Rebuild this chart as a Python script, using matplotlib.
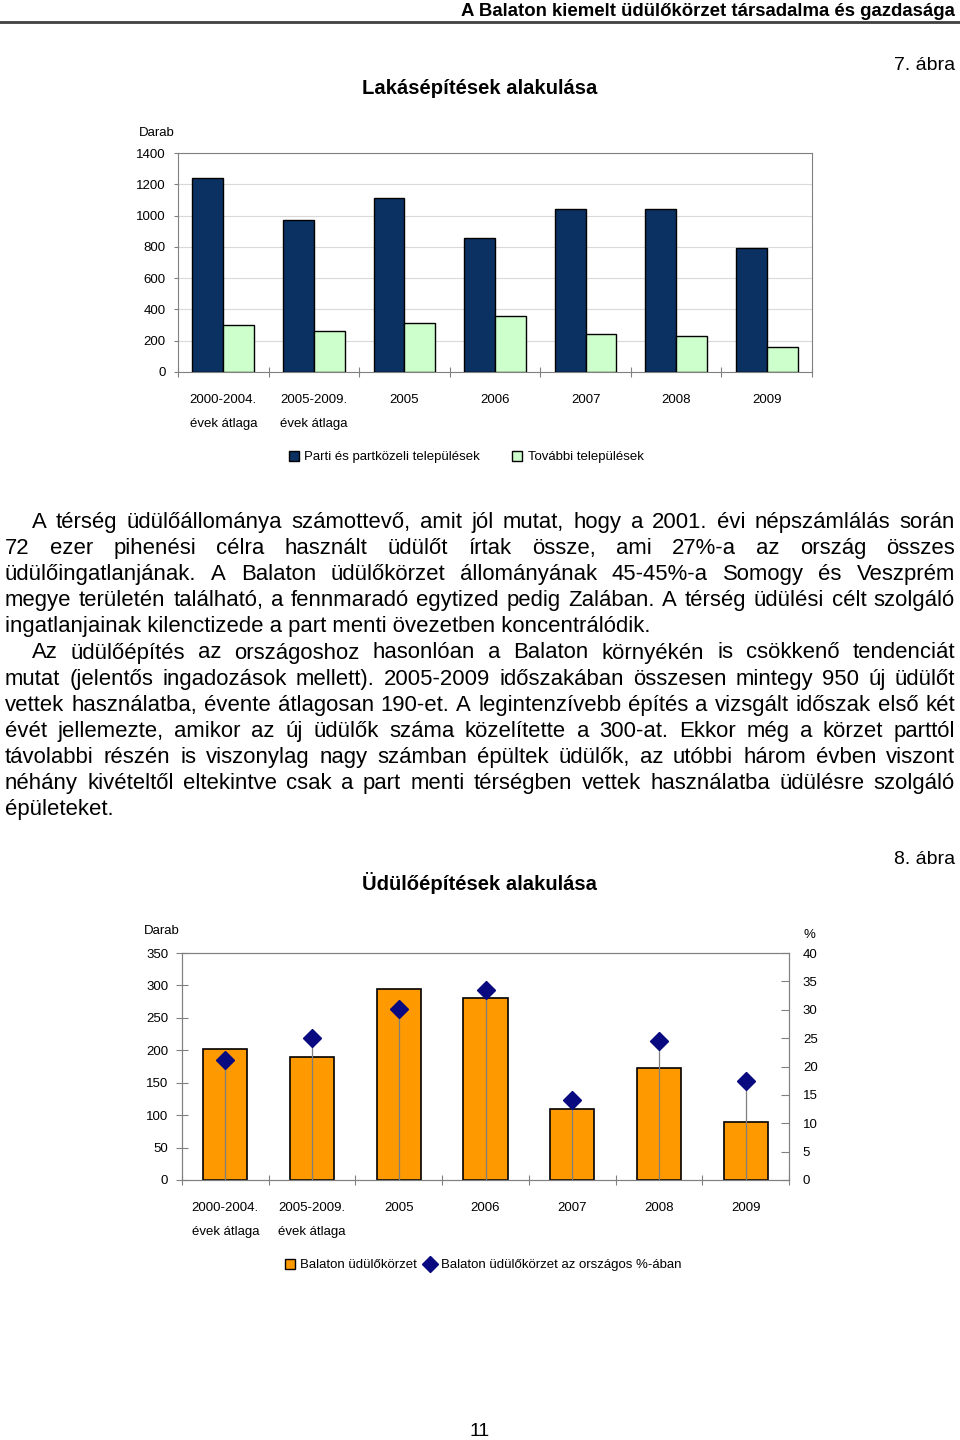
import numpy as np
import matplotlib.pyplot as plt
from matplotlib.patches import Patch
from matplotlib.lines import Line2D

# adatok
categories = ["2000-2004.\névek átlaga", "2005-2009.\névek átlaga", "2005", "2006", "2007", "2008", "2009"]
parti = [1240, 970, 1113, 857, 1042, 1042, 793]
tovabbi = [303, 261, 314, 356, 240, 231, 161]
udulo = [202, 189, 295, 280, 110, 173, 89]
udulo_pct = [21.2, 25.0, 30.2, 33.4, 14.1, 24.5, 17.5]

para1 = [
    "A térség üdülőállománya számottevő, amit jól mutat, hogy a 2001. évi népszámlálás során",
    "72 ezer pihenési célra használt üdülőt írtak össze, ami 27%-a az ország összes",
    "üdülőingatlanjának. A Balaton üdülőkörzet állományának 45-45%-a Somogy és Veszprém",
    "megye területén található, a fennmaradó egytized pedig Zalában. A térség üdülési célt szolgáló",
    "ingatlanjainak kilenctizede a part menti övezetben koncentrálódik.",
]
para2 = [
    "Az üdülőépítés az országoshoz hasonlóan a Balaton környékén is csökkenő tendenciát",
    "mutat (jelentős ingadozások mellett). 2005-2009 időszakában összesen mintegy 950 új üdülőt",
    "vettek használatba, évente átlagosan 190-et. A legintenzívebb építés a vizsgált időszak első két",
    "évét jellemezte, amikor az új üdülők száma közelítette a 300-at. Ekkor még a körzet parttól",
    "távolabbi részén is viszonylag nagy számban épültek üdülők, az utóbbi három évben viszont",
    "néhány kivételtől eltekintve csak a part menti térségben vettek használatba üdülésre szolgáló",
    "épületeket.",
]

SANS = ["Liberation Sans", "DejaVu Sans"]
W, H = 960, 1440
NAVY = "#0b3162"
LGREEN = "#ccffcc"
ORANGE = "#ff9900"
GRID = "#808080"
TS = 9.5  # diagram betűméret

fig = plt.figure(figsize=(W / 100, H / 100), dpi=100)


def P(x, y):
    return x / W, 1 - y / H


def ftext(x, y, s, **kw):
    fig.text(*P(x, y), s, **kw)


# fejléc
ftext(955, 11, "A Balaton kiemelt üdülőkörzet társadalma és gazdasága", ha="right", va="center",
      family=SANS, fontsize=13.4, fontweight="bold")
fig.add_artist(Line2D([0, 1], [1 - 22 / H] * 2, transform=fig.transFigure, color="#404040", lw=2))

ftext(955, 66, "7. ábra", ha="right", va="center", family=SANS, fontsize=14)
ftext(480, 89, "Lakásépítések alakulása", ha="center", va="center", family=SANS, fontsize=14.6, fontweight="bold")
ftext(955, 859, "8. ábra", ha="right", va="center", family=SANS, fontsize=14)
ftext(480, 883, "Üdülőépítések alakulása", ha="center", va="center", family=SANS, fontsize=14.6, fontweight="bold")
ftext(480, 1431, "11", ha="center", va="center", family=SANS, fontsize=14)

x = np.arange(len(categories))


def style_xaxis(ax, pad):
    ax.set_xlim(-0.5, len(categories) - 0.5)
    ax.set_xticks(np.arange(-0.5, len(categories)), [])
    ax.set_xticks(x, minor=True)
    ax.set_xticklabels(categories, minor=True, family=SANS, fontsize=TS, linespacing=2.3, va="top")
    ax.tick_params(axis="x", which="major", direction="inout", length=7, color=GRID)
    ax.tick_params(axis="x", which="minor", length=0, pad=pad)


# 7. ábra
ax1 = fig.add_axes([178 / W, 1 - 372 / H, 634 / W, 219 / H])
bw = 0.34
ax1.bar(x - bw / 2, parti, bw, color=NAVY, edgecolor="black", lw=1, zorder=3)
ax1.bar(x + bw / 2, tovabbi, bw, color=LGREEN, edgecolor="black", lw=1, zorder=3)
ax1.set_ylim(0, 1400)
ax1.set_yticks(range(0, 1401, 200))
ax1.set_yticklabels([str(v) for v in range(0, 1401, 200)], family=SANS, fontsize=TS)
ax1.tick_params(axis="y", length=3, color=GRID, pad=6)
ax1.grid(axis="y", color="#d9d9d9", lw=0.8, zorder=0)
for s in ax1.spines.values():
    s.set_color(GRID)
style_xaxis(ax1, 16)
ftext(139, 133, "Darab", ha="left", va="center", family=SANS, fontsize=TS)

fig.legend(handles=[Patch(facecolor=NAVY, edgecolor="black", label="Parti és partközeli települések"),
                    Patch(facecolor=LGREEN, edgecolor="black", label="További települések")],
           loc="center", bbox_to_anchor=P(466, 457), ncol=2, frameon=False,
           prop={"family": SANS, "size": TS}, handlelength=0.8, handleheight=0.8,
           handletextpad=0.4, columnspacing=2.4)

# 8. ábra
ax2 = fig.add_axes([182 / W, 1 - 1180 / H, 607 / W, 227 / H])
ax2.bar(x, udulo, 0.51, color=ORANGE, edgecolor="black", lw=1.2, zorder=2)
ax2.set_ylim(0, 350)
ax2.set_yticks(range(0, 351, 50))
ax2.set_yticklabels([str(v) for v in range(0, 351, 50)], family=SANS, fontsize=TS)
ax2.tick_params(axis="y", direction="inout", length=8, color=GRID, pad=6)
for s in ax2.spines.values():
    s.set_color(GRID)
style_xaxis(ax2, 16)

ax2t = ax2.twinx()
ax2t.set_ylim(0, 40)
ax2t.set_yticks(range(0, 41, 5))
ax2t.set_yticklabels([str(v) for v in range(0, 41, 5)], family=SANS, fontsize=TS)
ax2t.tick_params(axis="y", direction="in", length=6, color=GRID, pad=10)
for s in ax2t.spines.values():
    s.set_color(GRID)
ax2t.vlines(x, 0, udulo_pct, color="#7f7f7f", lw=0.9, zorder=3)
ax2t.plot(x, udulo_pct, ls="none", marker="D", ms=9, color="#0a0a80", zorder=4)
ftext(144, 931, "Darab", ha="left", va="center", family=SANS, fontsize=TS)
ftext(804, 935, "%", ha="left", va="center", family=SANS, fontsize=TS)

fig.legend(handles=[Patch(facecolor=ORANGE, edgecolor="black", label="Balaton üdülőkörzet"),
                    Line2D([], [], ls="none", marker="D", ms=8, color="#0a0a80",
                           label="Balaton üdülőkörzet az országos %-ában")],
           loc="center", bbox_to_anchor=P(483, 1265), ncol=2, frameon=False,
           prop={"family": SANS, "size": TS}, handlelength=0.8, handleheight=0.8,
           handletextpad=0.4, columnspacing=0.6)

# sorkizárt szöveg
renderer = fig.canvas.get_renderer()
LEFT, RIGHT, INDENT = 5, 955, 32
FS = 15.9


def put_line(line, y, x0, justify):
    if not justify:
        ftext(x0, y, line, ha="left", va="baseline", family=SANS, fontsize=FS)
        return
    words = line.split(" ")
    arts = [fig.text(0, 0, w, ha="left", va="baseline", family=SANS, fontsize=FS) for w in words]
    widths = [a.get_window_extent(renderer).width for a in arts]
    gap = (RIGHT - x0 - sum(widths)) / (len(words) - 1)
    xc = x0
    for a, wd in zip(arts, widths):
        a.set_position(P(xc, y))
        xc += wd + gap


base = 528
row = 0
for para in (para1, para2):
    for i, line in enumerate(para):
        put_line(line, base + row * 26.1, INDENT if i == 0 else LEFT, i < len(para) - 1)
        row += 1

fig.savefig("out.png", dpi=100)
